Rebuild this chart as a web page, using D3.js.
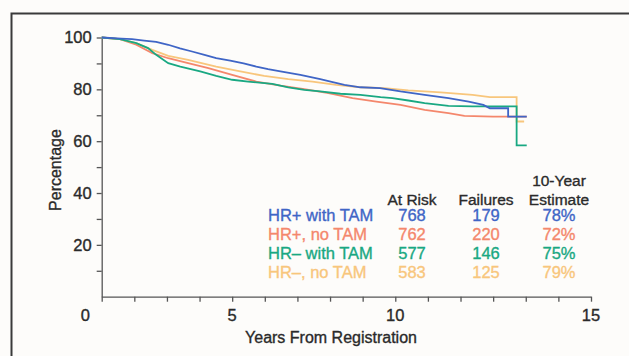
<!DOCTYPE html>
<html>
<head>
<meta charset="utf-8">
<script src="https://cdn.jsdelivr.net/npm/d3@7"></script>
<style>
  body { margin: 0; background: #fdfcfa; }
  svg { display: block; font-family: "Liberation Sans", Arial, sans-serif; }
</style>
</head>
<body>
<div id="chart"></div>
<script>
// survival curves, [years, percent]
const hrPosTam = [[0,100],[0.6,99.6],[0.93,99.4],[1.3,98.8],[1.67,98.3],[2.04,97.2],[2.4,95.8],[2.77,94.6],[3.15,93.3],[3.51,92.0],[3.94,91.1],[4.35,90.0],[4.74,88.8],[5.1,87.8],[5.48,86.9],[6.09,85.6],[6.7,83.9],[7.05,82.9],[7.44,81.7],[7.93,80.8],[8.53,80.5],[9.16,79.2],[9.9,77.9],[10.63,76.6],[11.25,75.3],[11.7,74.0],[11.9,72.7],[12.46,72.7],[12.46,69.5],[13.03,69.5]]
const hrPosNoTam = [[0,100],[0.56,99.4],[1.06,97.2],[1.55,94.0],[2.04,92.0],[2.65,90.1],[3.27,88.2],[4.0,85.6],[4.74,83.0],[5.48,81.4],[6.21,80.1],[6.95,78.5],[7.69,76.6],[8.42,75.3],[9.16,74.0],[9.9,72.1],[10.63,70.8],[11.12,69.8],[12.0,69.5],[13.03,69.5]]
const hrNegTam = [[0,100],[0.56,99.4],[1.06,97.8],[1.42,95.9],[1.67,93.3],[2.04,90.1],[2.41,88.8],[3.02,86.9],[3.51,85.2],[4.0,83.7],[4.49,83.0],[5.23,82.1],[5.72,80.8],[6.21,79.8],[6.7,79.2],[7.32,78.3],[7.93,77.9],[8.55,77.0],[8.91,76.6],[9.4,75.7],[9.9,74.7],[10.63,73.6],[11.37,73.4],[12.72,73.4],[12.72,58.4],[13.03,58.4]]
const hrNegNoTam = [[0,100],[0.56,99.4],[1.06,97.8],[1.55,95.2],[2.04,92.9],[2.65,91.4],[3.51,88.8],[4.25,86.9],[4.98,85.2],[5.72,83.9],[6.46,83.0],[7.19,81.7],[7.93,80.8],[8.67,80.5],[9.4,79.6],[10.39,78.8],[11.37,77.9],[11.9,77.0],[12.72,77.0],[12.72,67.6],[12.95,67.6]]

const groups = ['HR+ with TAM', 'HR+, no TAM', 'HR\u2013 with TAM', 'HR\u2013, no TAM']
const atRisk = [768, 762, 577, 583]
const failures = [179, 220, 146, 125]
const estimate = ['78%', '72%', '75%', '79%']
const colors = ['#3f65c6', '#f4876c', '#19a882', '#f8c67c']

const yTicks = [20, 40, 60, 80, 100]
const xTickLabels = ['0', '5', '10', '15']
const xTickLabelAt = [-0.5, 4, 9, 15]   // where the printed labels sit on the tick scale

const width = 629, height = 356
const ink = '#2a2a2a'
const svg = d3.select('#chart').append('svg')
  .attr('width', width).attr('height', height)

// frame
svg.append('path')
  .attr('d', `M11.5,${height} V13.5 H${width}`)
  .attr('fill', 'none').attr('stroke', '#3a3a3a').attr('stroke-width', 2)

const x = d3.scaleLinear().domain([0, 15]).range([101.7, 591])
const y = d3.scaleLinear().domain([0, 100]).range([296.7, 37.5])

// axes
svg.append('g').attr('transform', `translate(0,${y(0)})`)
  .call(d3.axisBottom(x).tickValues(d3.range(0, 16)).tickSize(5).tickSizeOuter(0).tickFormat(''))
svg.append('g').attr('transform', `translate(${x(0)},0)`)
  .call(d3.axisLeft(y).tickValues(d3.range(10, 101, 10)).tickSize(5).tickSizeOuter(0).tickFormat(''))
svg.selectAll('.domain, .tick line').attr('stroke', '#555').attr('stroke-width', 1.3)

const labels = svg.append('g').attr('fill', ink).attr('stroke', ink).attr('stroke-width', 0.35)

labels.append('g').selectAll('text').data(yTicks).join('text')
  .attr('x', x(0) - 10).attr('y', d => y(d)).attr('dy', '0.36em')
  .attr('text-anchor', 'end').attr('font-size', 16.5)
  .text(d => d)

labels.append('g').selectAll('text').data(xTickLabels).join('text')
  .attr('x', (d, i) => x(xTickLabelAt[i])).attr('y', 315).attr('dy', '0.36em')
  .attr('text-anchor', 'middle').attr('font-size', 16.5)
  .text(d => d)

labels.append('text').attr('x', 331).attr('y', 337).attr('dy', '0.36em')
  .attr('text-anchor', 'middle').attr('font-size', 16)
  .text('Years From Registration')
labels.append('text').attr('transform', 'translate(55,170) rotate(-90)').attr('dy', '0.36em')
  .attr('text-anchor', 'middle').attr('font-size', 16)
  .text('Percentage')

// curves
const line = d3.line().x(d => x(d[0])).y(d => y(d[1]))
const series = [hrPosNoTam, hrNegNoTam, hrNegTam, hrPosTam]
const seriesColors = [colors[1], colors[3], colors[2], colors[0]]
svg.append('g').selectAll('path').data(series).join('path')
  .attr('d', line).attr('fill', 'none')
  .attr('stroke', (d, i) => seriesColors[i]).attr('stroke-width', 1.8)

// table
const rowY = [215.5, 234.5, 253.5, 272.5]
const colX = [412, 486, 559]
const table = svg.append('g').attr('stroke-width', 0.35)
const head = table.append('g').attr('font-size', 15.5).attr('fill', ink).attr('stroke', ink).attr('text-anchor', 'middle')
head.append('text').attr('x', colX[0]).attr('y', 199).attr('dy', '0.36em').text('At Risk')
head.append('text').attr('x', colX[1]).attr('y', 199).attr('dy', '0.36em').text('Failures')
head.append('text').attr('x', colX[2]).attr('y', 180).attr('dy', '0.36em').text('10-Year')
head.append('text').attr('x', colX[2]).attr('y', 199).attr('dy', '0.36em').text('Estimate')

const rows = table.selectAll('g.row').data(groups).join('g').attr('class', 'row')
  .attr('font-size', 16.5)
  .attr('fill', (d, i) => colors[i]).attr('stroke', (d, i) => colors[i])
  .attr('transform', (d, i) => `translate(0,${rowY[i]})`)
rows.append('text').attr('x', 268).attr('dy', '0.36em').text(d => d)
rows.append('text').attr('x', colX[0]).attr('dy', '0.36em').attr('text-anchor', 'middle').text((d, i) => atRisk[i])
rows.append('text').attr('x', colX[1]).attr('dy', '0.36em').attr('text-anchor', 'middle').text((d, i) => failures[i])
rows.append('text').attr('x', colX[2]).attr('dy', '0.36em').attr('text-anchor', 'middle').text((d, i) => estimate[i])
</script>
</body>
</html>
